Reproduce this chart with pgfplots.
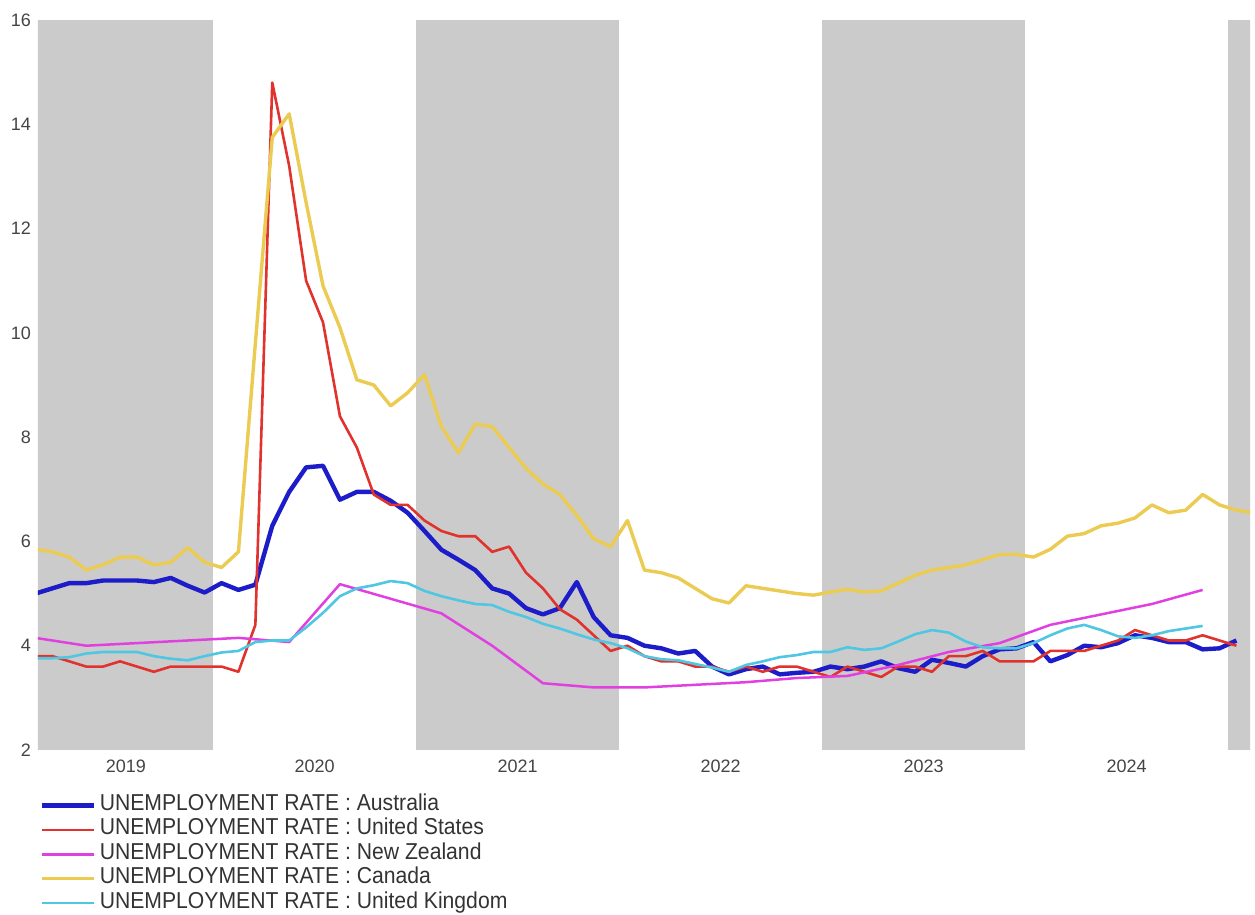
\documentclass[border=0pt]{standalone}
\usepackage{fontspec}
\setmainfont{Liberation Sans}
\usepackage{graphicx}
\usepackage{pgfplots}
\pgfplotsset{compat=1.18}

\definecolor{band}{HTML}{CBCBCB}
\definecolor{aus}{HTML}{1C1CC8}
\definecolor{usa}{HTML}{E0332E}
\definecolor{nzl}{HTML}{E040E0}
\definecolor{can}{HTML}{EBCB52}
\definecolor{gbr}{HTML}{4FC6E2}
\definecolor{ticktxt}{HTML}{444444}
\definecolor{legtxt}{HTML}{333333}

% x = month index, 1 = Jan 2019 (points sit mid-month)
\newcommand{\legtext}[1]{\scalebox{0.92}[1]{UNEMPLOYMENT RATE : #1}}

\begin{document}
\begin{tikzpicture}
\begin{axis}[
    at={(0,0)}, anchor=south west,
    scale only axis, width=606pt, height=365pt,
    xmin=2.15, xmax=73.8, ymin=2, ymax=16,
    ytick={2,4,...,16},
    xtick={7.35,18.5,30.5,42.5,54.5,66.5},
    xticklabels={2019,2020,2021,2022,2023,2024},
    major tick length=0pt,
    axis line style={draw=none},
    tick label style={font=\fontsize{9}{10}\selectfont, text=ticktxt},
    xticklabel style={yshift=-1.5pt},
    /pgf/number format/assume math mode=true,
    line join=round,
    legend cell align=left,
    legend image code/.code={\draw[#1] (0pt,0pt) -- (26pt,0pt);},
    legend style={at={(0,0)}, anchor=north west, xshift=0.5pt, yshift=-21.5pt,
        draw=none, fill=none, inner sep=0pt, row sep=0pt, column sep=2pt,
        font=\fontsize{11.5}{12}\selectfont, text=legtxt,
        nodes={inner sep=0pt, text height=8.6pt, text depth=3.6pt}},
]
% alternating year bands
\fill[band] (axis cs:0.5,2) rectangle (axis cs:12.5,16);
\fill[band] (axis cs:24.5,2) rectangle (axis cs:36.5,16);
\fill[band] (axis cs:48.5,2) rectangle (axis cs:60.5,16);
\fill[band] (axis cs:72.5,2) rectangle (axis cs:84.5,16);

\addplot[aus, line width=2.2pt] coordinates {
(2,5.0) (3,5.1) (4,5.2) (5,5.2) (6,5.25) (7,5.25) (8,5.25) (9,5.22) (10,5.3) (11,5.15) (12,5.02)
(13,5.2) (14,5.07) (15,5.17) (16,6.3) (17,6.95) (18,7.42) (19,7.45) (20,6.8) (21,6.95) (22,6.95) (23,6.78) (24,6.55)
(25,6.2) (26,5.84) (27,5.65) (28,5.45) (29,5.1) (30,5.0) (31,4.72) (32,4.6) (33,4.72) (34,5.22) (35,4.55) (36,4.2)
(37,4.15) (38,4.0) (39,3.95) (40,3.85) (41,3.9) (42,3.6) (43,3.45) (44,3.55) (45,3.6) (46,3.45) (47,3.48) (48,3.5)
(49,3.6) (50,3.55) (51,3.6) (52,3.7) (53,3.57) (54,3.5) (55,3.73) (56,3.67) (57,3.6) (58,3.8) (59,3.93) (60,3.95)
(61,4.07) (62,3.7) (63,3.82) (64,4.0) (65,3.97) (66,4.05) (67,4.2) (68,4.15) (69,4.07) (70,4.07) (71,3.93) (72,3.95)
(73,4.1)
};
\addlegendentry{\legtext{Australia}}

\addplot[usa, line width=1.3pt] coordinates {
(2,3.8) (3,3.8) (4,3.7) (5,3.6) (6,3.6) (7,3.7) (8,3.6) (9,3.5) (10,3.6) (11,3.6) (12,3.6)
(13,3.6) (14,3.5) (15,4.4) (16,14.8) (17,13.2) (18,11.0) (19,10.2) (20,8.4) (21,7.8) (22,6.9) (23,6.7) (24,6.7)
(25,6.4) (26,6.2) (27,6.1) (28,6.1) (29,5.8) (30,5.9) (31,5.4) (32,5.1) (33,4.7) (34,4.5) (35,4.2) (36,3.9)
(37,4.0) (38,3.8) (39,3.7) (40,3.7) (41,3.6) (42,3.6) (43,3.5) (44,3.6) (45,3.5) (46,3.6) (47,3.6) (48,3.5)
(49,3.4) (50,3.6) (51,3.5) (52,3.4) (53,3.6) (54,3.6) (55,3.5) (56,3.8) (57,3.8) (58,3.9) (59,3.7) (60,3.7)
(61,3.7) (62,3.9) (63,3.9) (64,3.9) (65,4.0) (66,4.1) (67,4.3) (68,4.2) (69,4.1) (70,4.1) (71,4.2) (72,4.1)
(73,4.0)
};
\addlegendentry{\legtext{United States}}

\addplot[nzl, line width=1.25pt] coordinates {
(2,4.15) (5,4.0) (8,4.05) (11,4.1) (14,4.15) (17,4.07) (20,5.18) (23,4.9)
(26,4.62) (29,4.0) (32,3.28) (35,3.2) (38,3.2) (41,3.25) (44,3.3) (47,3.38)
(50,3.42) (53,3.63) (56,3.88) (59,4.05) (62,4.4) (65,4.6) (68,4.8) (71,5.07)
};
\addlegendentry{\legtext{New Zealand}}

\addplot[can, line width=1.7pt] coordinates {
(2,5.85) (3,5.8) (4,5.7) (5,5.45) (6,5.55) (7,5.7) (8,5.7) (9,5.55) (10,5.6) (11,5.88) (12,5.6)
(13,5.5) (14,5.8) (15,9.8) (16,13.75) (17,14.2) (18,12.5) (19,10.9) (20,10.1) (21,9.1) (22,9.0) (23,8.6) (24,8.85)
(25,9.2) (26,8.2) (27,7.7) (28,8.25) (29,8.2) (30,7.8) (31,7.4) (32,7.1) (33,6.9) (34,6.5) (35,6.05) (36,5.9)
(37,6.4) (38,5.45) (39,5.4) (40,5.3) (41,5.1) (42,4.9) (43,4.82) (44,5.15) (45,5.1) (46,5.05) (47,5.0) (48,4.97)
(49,5.03) (50,5.08) (51,5.03) (52,5.05) (53,5.2) (54,5.35) (55,5.45) (56,5.5) (57,5.55) (58,5.65) (59,5.75) (60,5.75)
(61,5.7) (62,5.85) (63,6.1) (64,6.15) (65,6.3) (66,6.35) (67,6.45) (68,6.7) (69,6.55) (70,6.6) (71,6.9) (72,6.7)
(73,6.6) (74,6.55)
};
\addlegendentry{\legtext{Canada}}

\addplot[gbr, line width=1.3pt] coordinates {
(2,3.76) (3,3.76) (4,3.78) (5,3.85) (6,3.88) (7,3.88) (8,3.88) (9,3.8) (10,3.75) (11,3.72) (12,3.8)
(13,3.87) (14,3.9) (15,4.07) (16,4.1) (17,4.1) (18,4.35) (19,4.63) (20,4.95) (21,5.1) (22,5.16) (23,5.24) (24,5.2)
(25,5.05) (26,4.95) (27,4.87) (28,4.8) (29,4.78) (30,4.65) (31,4.55) (32,4.42) (33,4.33) (34,4.22) (35,4.12) (36,4.05)
(37,3.95) (38,3.8) (39,3.74) (40,3.72) (41,3.65) (42,3.58) (43,3.5) (44,3.63) (45,3.7) (46,3.78) (47,3.82) (48,3.88)
(49,3.88) (50,3.97) (51,3.92) (52,3.95) (53,4.08) (54,4.22) (55,4.3) (56,4.25) (57,4.08) (58,3.97) (59,3.95) (60,3.95)
(61,4.05) (62,4.2) (63,4.33) (64,4.4) (65,4.3) (66,4.18) (67,4.15) (68,4.2) (69,4.28) (70,4.33) (71,4.38)
};
\addlegendentry{\legtext{United Kingdom}}
\end{axis}
\pgfresetboundingbox
\path (-19pt,-82.5pt) rectangle (608.5pt,375pt);
\end{tikzpicture}
\end{document}
